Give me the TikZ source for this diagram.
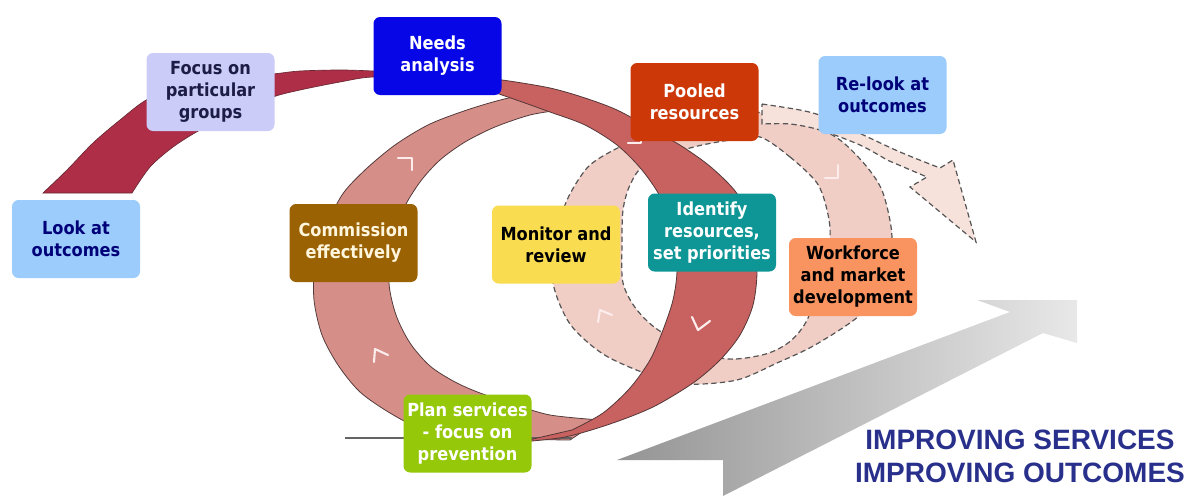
\documentclass[tikz,border=0pt]{standalone}
\usepackage{fontspec}
\newfontfamily\boxfont{DejaVu Sans}[FakeStretch=0.9]
\newfontfamily\bannerfont{Liberation Sans}

\tikzset{every picture/.style={line width=0.75pt}}
\tikzset{
  stage/.style={rounded corners=5pt, minimum width=96pt, minimum height=58.5pt, inner sep=1pt, align=center, font=\boxfont\bfseries\fontsize{13.5}{16.5}\selectfont},
  swoosh/.style={fill={rgb, 255:red, 174; green, 46; blue, 72 }, draw={rgb, 255:red, 105; green, 40; blue, 50 }, line width=0.5},
  frontband/.style={fill={rgb, 255:red, 200; green, 98; blue, 97 }, draw={rgb, 255:red, 85; green, 55; blue, 55 }, line width=0.6},
  backband/.style={fill={rgb, 255:red, 214; green, 143; blue, 136 }, draw={rgb, 255:red, 85; green, 60; blue, 60 }, line width=0.6},
  ghostband/.style={fill={rgb, 255:red, 240; green, 205; blue, 197 }, draw={rgb, 255:red, 85; green, 85; blue, 85 }, dash pattern=on 4pt off 2.5pt, line width=0.9},
  ghostarrow/.style={ghostband, fill={rgb, 255:red, 246; green, 225; blue, 219 }},
  chevron/.style={draw={rgb, 255:red, 252; green, 236; blue, 236 }, line width=1.6, line cap=round, line join=round}
}

\begin{document}
\begin{tikzpicture}[x=0.75pt,y=0.75pt,yscale=-1,xscale=1]
\useasboundingbox (0,0) rectangle (1189,496);
\fill[white] (0,0) rectangle (1189,496);

%Shape: Gray arrow
\shade[left color={rgb, 255:red, 148; green, 148; blue, 148 }, right color={rgb, 255:red, 232; green, 232; blue, 232 }] (617,460) -- (1010,312) -- (977,300) -- (1077,300) -- (1077,343) -- (1043,333) -- (723,496) -- (723,460) -- cycle ;

%Shape: Dashed ring behind
\path[ghostband, even odd rule] plot[smooth cycle] coordinates {(763,113) (807,123) (840,140) (867,167) (883,193) (892,237) (885,280) (860,315) (815,345) (777,363) (737,380) (687,384) (647,374) (603,354) (570,324) (553,283) (555,240) (567,200) (587,168) (610,152) (640,138) (690,120) (730,112)}
  plot[smooth cycle] coordinates {(760,137) (790,157) (817,183) (827,210) (830,237) (822,280) (806,322) (788,343) (762,355) (720,358) (663,333) (637,310) (623,283) (622,245) (623,210) (630,185) (645,165) (690,148) (730,140)} ;

%Shape: Dashed arrow
\path[ghostarrow] plot[smooth] coordinates {(762,104) (800,110) (822,116) (857,132) (900,152) (940,168)} -- (953,160) -- (976,242) -- (910,187) -- (927,177)
  -- plot[smooth] coordinates {(887,160) (860,145) (820,130) (790,124) (762,124)} -- cycle ;

%Shape: Back band
\path[backband] plot[smooth] coordinates {(555,91) (513,97) (473,108) (430,124) (395,145) (365,170) (342,195) (325,230) (315,265) (314,300) (322,335) (338,365) (360,392) (390,413) (420,428) (460,436) (510,439) (570,440)}
  -- plot[smooth] coordinates {(600,420) (550,415) (513,404) (480,393) (455,382) (430,366) (410,343) (396,315) (389,283) (392,245) (403,210) (420,182) (440,160) (465,142) (495,127) (530,115) (560,110)} -- cycle ;

%Straight Lines: base
\draw[color={rgb, 255:red, 100; green, 100; blue, 100 }, line width=1] (345,438) -- (572,438) ;

%Shape: Front band
\path[frontband] plot[smooth] coordinates {(420,74) (460,76) (502,80) (550,88) (585,98) (617,110) (650,128) (683,147) (712,168) (738,195) (752,230) (757,270) (753,305) (740,335) (720,360) (693,383) (653,407) (610,424) (565,437) (520,442)}
  -- plot[smooth] coordinates {(572,430) (603,413) (630,388) (650,360) (663,330) (673,300) (677,270) (673,235) (662,200) (642,170) (617,145) (585,125) (550,112) (502,95) (460,82) (420,79)} -- cycle ;

%Shape: Swoosh
\path[swoosh] plot[smooth] coordinates {(43,193) (67,170) (93,143) (120,120) (148,99) (185,86) (230,78) (273,74) (300,71) (340,70) (373,71) (430,74)}
  -- plot[smooth] coordinates {(430,79) (373,77) (340,82) (300,90) (273,97) (235,113) (200,130) (173,147) (150,167) (132,193)} -- cycle ;

%Chevrons
\draw[chevron] (398,158) -- (412,158) -- (412,170) ;
\draw[chevron] (374,362) -- (375,349) -- (388,355) ;
\draw[chevron] (641,130) -- (641,143) -- (628,143) ;
\draw[chevron] (692,317) -- (698,330) -- (710,321) ;
\draw[chevron] (598,322) -- (600,310) -- (612,315) ;
\draw[chevron] (838,165) -- (838,178) -- (825,178) ;

% Text Node
\node[stage, fill={rgb, 255:red, 155; green, 204; blue, 252 }, text={rgb, 255:red, 0; green, 0; blue, 120 }] (look) at (76,239) {Look at\\outcomes};
% Text Node
\node[stage, fill={rgb, 255:red, 204; green, 204; blue, 248 }, text={rgb, 255:red, 28; green, 28; blue, 70 }] (focus) at (210.5,92) {Focus on\\particular\\groups};
% Text Node
\node[stage, fill={rgb, 255:red, 6; green, 6; blue, 230 }, text=white] (needs) at (437.5,56) {Needs\\analysis};
% Text Node
\node[stage, fill={rgb, 255:red, 204; green, 56; blue, 8 }, text=white] (pooled) at (694.5,102) {Pooled\\resources};
% Text Node
\node[stage, fill={rgb, 255:red, 155; green, 204; blue, 252 }, text={rgb, 255:red, 0; green, 0; blue, 120 }] (relook) at (882.5,95) {Re-look at\\outcomes};
% Text Node
\node[stage, fill={rgb, 255:red, 154; green, 98; blue, 3 }, text={rgb, 255:red, 255; green, 246; blue, 222 }] (commission) at (353.5,243) {Commission\\effectively};
% Text Node
\node[stage, fill={rgb, 255:red, 249; green, 220; blue, 80 }, text=black] (monitor) at (556,244.5) {Monitor and\\review};
% Text Node
\node[stage, fill={rgb, 255:red, 14; green, 150; blue, 150 }, text=white] (identify) at (712,232.5) {Identify\\resources,\\set priorities};
% Text Node
\node[stage, fill={rgb, 255:red, 249; green, 148; blue, 96 }, text=black] (workforce) at (853,277) {Workforce\\and market\\development};
% Text Node
\node[stage, fill={rgb, 255:red, 150; green, 200; blue, 10 }, text=white] (plan) at (467.5,433.5) {Plan services\\- focus on\\prevention};

% Text Node
\node[inner sep=0pt, align=center, text={rgb, 255:red, 40; green, 48; blue, 140 }, font=\bannerfont\bfseries\fontsize{21}{24.75}\selectfont] (banner) at (1020,456) {IMPROVING SERVICES\\IMPROVING OUTCOMES};

\end{tikzpicture}
\end{document}
